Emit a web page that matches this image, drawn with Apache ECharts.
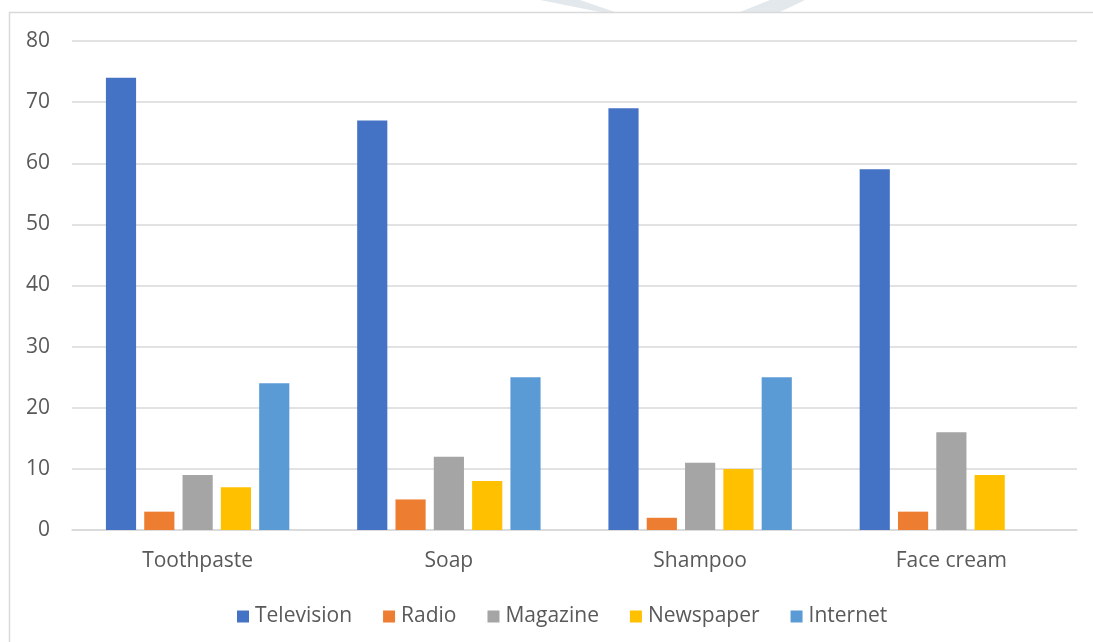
<!DOCTYPE html>
<html>
<head>
<meta charset="utf-8">
<style>
  html, body { margin: 0; padding: 0; background: #ffffff; }
  #chart { width: 1093px; height: 642px; }
</style>
<script src="https://cdn.jsdelivr.net/npm/echarts@6/dist/echarts.min.js"></script>
</head>
<body>
<div id="chart"></div>
<script>
// Products and advertising media
const categories = ['Toothpaste', 'Soap', 'Shampoo', 'Face cream'];
const television = [74, 67, 69, 59];
const radio      = [3, 5, 2, 3];
const magazine   = [9, 12, 11, 16];
const newspaper  = [7, 8, 10, 9];
const internet   = [24, 25, 25, 0];

const seriesNames  = ['Television', 'Radio', 'Magazine', 'Newspaper', 'Internet'];
const seriesData   = [television, radio, magazine, newspaper, internet];
const seriesColors = ['#4472C4', '#ED7D31', '#A5A5A5', '#FFC000', '#5B9BD5'];

const FONT = '"Open Sans", Lato, sans-serif';
const TEXT = '#595959';

const chart = echarts.init(document.getElementById('chart'), null, { renderer: 'canvas' });

chart.setOption({
  backgroundColor: '#ffffff',
  animation: false,
  color: seriesColors,
  graphic: [
    // chart frame
    {
      type: 'rect',
      shape: { x: 9.5, y: 12.5, width: 1200, height: 800 },
      style: { fill: 'none', stroke: '#d9d9d9', lineWidth: 1.5 },
      z: -10
    },
    // faint mark along the top edge
    {
      type: 'polygon',
      shape: { points: [[540, 0], [580, 0], [615, 12], [600, 12]] },
      style: { fill: '#e3e8ec' },
      z: -11
    },
    {
      type: 'polygon',
      shape: { points: [[805, 0], [770, 0], [740, 12], [780, 12]] },
      style: { fill: '#e3e8ec' },
      z: -11
    }
  ],
  grid: { left: 72, right: 16, top: 41, bottom: 112, containLabel: false },
  legend: {
    data: seriesNames,
    top: 601,
    left: 232,
    icon: 'rect',
    itemWidth: 12,
    itemHeight: 12,
    itemGap: 31,
    textStyle: { color: TEXT, fontSize: 21, fontFamily: FONT, padding: [0, 0, 0, 1] }
  },
  xAxis: {
    type: 'category',
    data: categories,
    axisLine: { show: true, lineStyle: { color: '#d9d9d9', width: 1.5 } },
    axisTick: { show: false },
    axisLabel: { color: TEXT, fontSize: 21, fontFamily: FONT, margin: 21 }
  },
  yAxis: {
    type: 'value',
    min: 0,
    max: 80,
    interval: 10,
    axisLine: { show: false },
    axisTick: { show: false },
    splitLine: { lineStyle: { color: '#d9d9d9', width: 1.5 } },
    axisLabel: { color: TEXT, fontSize: 21, fontFamily: FONT, margin: 22 }
  },
  series: seriesNames.map((name, i) => ({
    name: name,
    type: 'bar',
    data: seriesData[i],
    barGap: '27%',
    barCategoryGap: '27%',
    itemStyle: { color: seriesColors[i] }
  }))
});
</script>
</body>
</html>
